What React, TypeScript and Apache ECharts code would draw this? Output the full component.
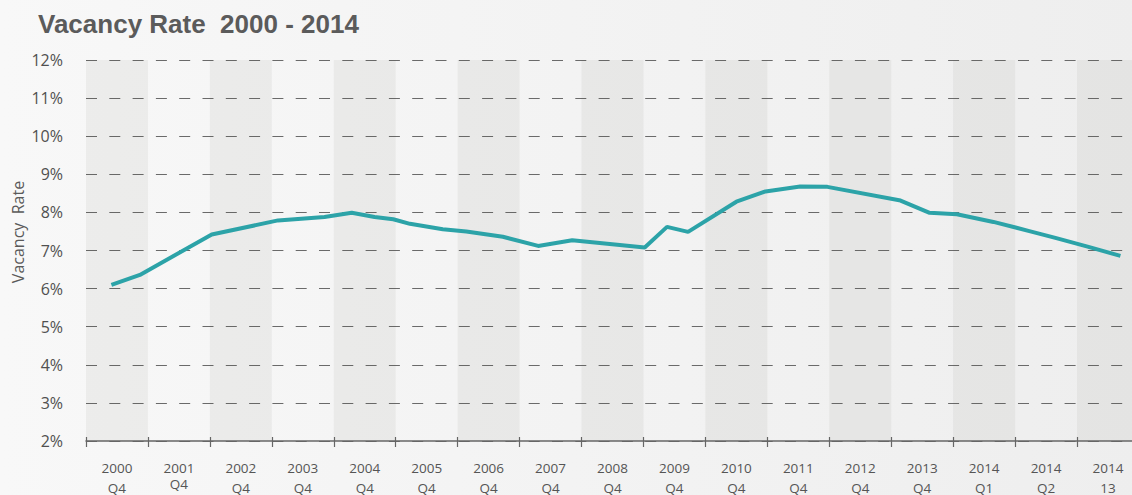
import React, { useEffect, useRef } from "react";
import * as echarts from "echarts";

const titleText = "Vacancy Rate  2000 - 2014";
const yAxisName = "Vacancy  Rate";
const years = ["2000", "2001", "2002", "2003", "2004", "2005", "2006", "2007", "2008", "2009", "2010", "2011", "2012", "2013", "2014", "2014", "2014"];
const quarters = ["Q4", "Q4", "Q4", "Q4", "Q4", "Q4", "Q4", "Q4", "Q4", "Q4", "Q4", "Q4", "Q4", "Q4", "Q1", "Q2", "13"];
const categories = years.map((y, i) => `${y}\n${quarters[i]}`);

// position along the category axis (in category widths from the left edge) and vacancy rate in %
const pointPos = [0.41, 0.87, 2.03, 3.1, 3.85, 4.29, 4.66, 4.96, 5.23, 5.76, 6.14, 6.73, 7.3, 7.85, 9.02, 9.38, 9.72, 10.5, 10.97, 11.53, 11.97, 13.15, 13.62, 14.06, 14.65, 15.23, 15.65, 16.17, 16.7];
const vacancyRate = [6.1, 6.36, 7.42, 7.79, 7.88, 7.99, 7.88, 7.82, 7.7, 7.56, 7.5, 7.36, 7.12, 7.27, 7.08, 7.62, 7.49, 8.28, 8.55, 8.68, 8.67, 8.31, 7.99, 7.95, 7.75, 7.51, 7.33, 7.1, 6.86];

const yMin = 2;
const yMax = 12;
const yStep = 1;

export default function App() {
  const ref = useRef<HTMLDivElement>(null);
  useEffect(() => {
    if (!ref.current) return;
    const chart = echarts.init(ref.current, null, { renderer: "svg" });
    const labelFont = "'Open Sans', 'Noto Sans', sans-serif";
    chart.setOption({
      animation: false,
      backgroundColor: {
        type: "linear", x: 0, y: 0, x2: 1, y2: 0,
        colorStops: [
          { offset: 0, color: "#f8f8f8" },
          { offset: 1, color: "#eeeeee" },
        ],
      },
      title: {
        text: titleText,
        left: 33,
        top: 6,
        textStyle: { fontFamily: "'Liberation Sans', Arial, sans-serif", fontSize: 26, fontWeight: "bold", color: "#5b5b5b" },
      },
      graphic: [
        {
          type: "text",
          x: 18,
          y: 232,
          rotation: Math.PI / 2,
          style: {
            text: yAxisName,
            fontFamily: labelFont,
            fontSize: 16,
            fill: "#5a5a5a",
            align: "center",
            verticalAlign: "middle",
          },
        },
      ],
      grid: { left: 86, top: 60, width: 1053, height: 384, containLabel: false },
      xAxis: [
        {
          type: "category",
          data: categories,
          boundaryGap: true,
          axisLine: { show: true, lineStyle: { color: "#666", width: 1.5 } },
          axisTick: { show: true, length: 6, lineStyle: { color: "#666", width: 1.2 } },
          axisLabel: {
            margin: 19,
            color: "#555",
            fontFamily: labelFont,
            fontSize: 13.5,
            interval: 0,
            formatter: (_v: string, idx: number) =>
              idx === 1
                ? `{t|${years[idx]}}\n{q|${quarters[idx]}}`
                : `{t|${years[idx]}}\n{n|${quarters[idx]}}`,
            rich: {
              t: { lineHeight: 16, fontSize: 13.5, fontFamily: labelFont, color: "#555" },
              q: { lineHeight: 16, fontSize: 13.5, fontFamily: labelFont, color: "#555" },
              n: { lineHeight: 24, fontSize: 13.5, fontFamily: labelFont, color: "#555" },
            },
          },
          splitLine: { show: false },
          splitArea: {
            show: true,
            interval: 0,
            areaStyle: { color: ["rgba(95,95,70,0.065)", "rgba(0,0,0,0)"] },
          },
          z: 1,
        },
        {
          type: "value",
          min: 0,
          max: 17,
          show: false,
          splitLine: { show: false },
        },
        {
          type: "category",
          data: categories,
          boundaryGap: true,
          position: "bottom",
          axisLine: { show: false },
          axisTick: { show: true, inside: true, length: 4, lineStyle: { color: "#666", width: 1.2 } },
          axisLabel: { show: false },
          splitLine: { show: false },
          splitArea: { show: false },
        },
      ],
      yAxis: {
        type: "value",
        min: yMin,
        max: yMax,
        interval: yStep,
        axisLine: { show: false },
        axisTick: { show: false },
        axisLabel: {
          margin: 23,
          color: "#505050",
          fontFamily: labelFont,
          fontSize: 16,
          formatter: (v: number) => `${v}%`,
        },
        splitLine: {
          show: true,
          lineStyle: { color: "#6a6a6a", width: 1, type: [11, 12.3] },
        },
      },
      series: [
        {
          type: "line",
          xAxisIndex: 1,
          yAxisIndex: 0,
          data: pointPos.map((p, i) => [p, vacancyRate[i]]),
          symbol: "none",
          lineStyle: { color: "#2ca3a8", width: 4 },
          itemStyle: { color: "#2ca3a8" },
          z: 5,
        },
      ],
    });
    return () => chart.dispose();
  }, []);
  return (
    <div style={{ position: "absolute", left: 0, top: 0, width: 1132, height: 495, overflow: "hidden" }}>
      <div ref={ref} style={{ width: 1140, height: 495 }} />
    </div>
  );
}
